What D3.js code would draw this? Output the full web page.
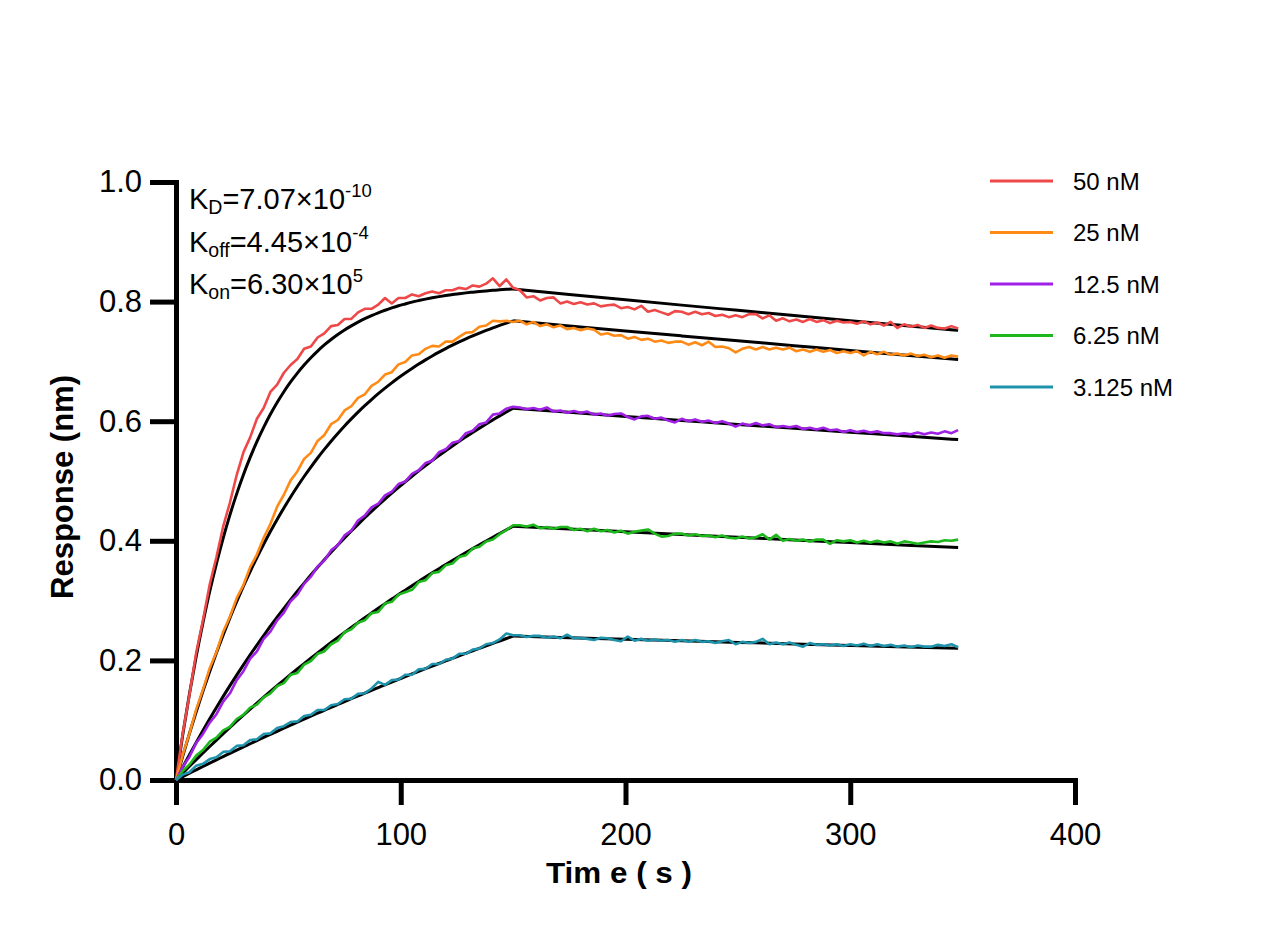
<!DOCTYPE html>
<html><head><meta charset="utf-8">
<script src="https://cdn.jsdelivr.net/npm/d3@7"></script>
<style>
html,body{margin:0;padding:0;background:#fff;}
svg{display:block;font-family:"Liberation Sans",Arial,Helvetica,sans-serif;}
</style></head><body>
<svg id="chart" width="1284" height="934"></svg>
<script>
// ---- sample times (s) of the measured traces ----
const time = [0,3,6,9,12,15,18,21,24,27,30,33,36,39,42,45,48,51,54,57,60,63,66,69,72,75,78,81,84,87,90,93,96,99,102,105,108,111,114,117,120,123,126,129,132,135,138,141,144,147,150,
153,156,159,162,165,168,171,174,177,180,183,186,189,192,195,198,201,204,207,210,213,216,219,222,225,228,231,234,237,240,243,246,249,252,255,258,261,264,267,270,273,276,279,282,285,288,291,294,297,300,303,306,309,312,315,318,321,324,327,330,333,336,339,342,345,348];
// ---- sample times (s) of the fitted curves ----
const fitTime = [0,3,6,9,12,15,18,21,24,27,30,33,36,39,42,45,48,51,54,57,60,63,66,69,72,75,78,81,84,87,90,93,96,99,102,105,108,111,114,117,120,123,126,129,132,135,138,141,144,147,150,
175,200,225,250,275,300,325,348];

const seriesNames = ["50 nM","25 nM","12.5 nM","6.25 nM","3.125 nM"];
const seriesColors = ["#EE4848","#FF8A16","#A020E6","#1CB81C","#1F93AC"];

// ---- measured responses (nm) ----
const data50 = [0,0.078,0.143,0.213,0.267,0.327,0.373,0.424,0.464,0.510,0.548,0.573,0.604,0.622,0.649,0.661,0.681,0.694,0.704,0.721,0.725,0.740,0.747,0.759,0.761,0.771,0.771,0.782,0.788,0.788,0.795,0.806,0.797,0.806,0.806,0.812,0.809,0.814,0.817,0.814,0.819,0.819,0.823,0.821,0.827,0.825,0.830,0.839,0.826,0.837,0.823,
0.819,0.807,0.809,0.802,0.806,0.807,0.797,0.800,0.796,0.799,0.795,0.797,0.792,0.794,0.795,0.789,0.791,0.787,0.793,0.783,0.786,0.782,0.778,0.784,0.783,0.779,0.783,0.779,0.781,0.776,0.778,0.774,0.777,0.774,0.779,0.779,0.772,0.777,0.768,0.772,0.767,0.770,0.766,0.771,0.766,0.769,0.764,0.768,0.765,0.766,0.763,0.767,0.762,0.765,0.760,0.766,0.756,0.762,0.758,0.761,0.756,0.760,0.756,0.755,0.759,0.755];
const data25 = [0,0.042,0.078,0.118,0.151,0.187,0.214,0.248,0.273,0.304,0.326,0.356,0.377,0.405,0.428,0.457,0.477,0.501,0.516,0.537,0.547,0.567,0.577,0.595,0.602,0.618,0.625,0.639,0.645,0.659,0.666,0.678,0.682,0.695,0.699,0.710,0.712,0.721,0.726,0.725,0.733,0.733,0.741,0.748,0.749,0.758,0.760,0.768,0.767,0.768,0.766,
0.768,0.762,0.766,0.759,0.762,0.757,0.760,0.754,0.756,0.752,0.755,0.753,0.745,0.747,0.743,0.744,0.738,0.741,0.736,0.738,0.733,0.735,0.731,0.733,0.733,0.728,0.732,0.727,0.733,0.724,0.725,0.722,0.715,0.721,0.724,0.720,0.724,0.720,0.723,0.720,0.723,0.717,0.720,0.716,0.720,0.716,0.719,0.714,0.717,0.714,0.717,0.710,0.716,0.712,0.716,0.711,0.713,0.710,0.713,0.709,0.711,0.707,0.710,0.706,0.710,0.708];
const data12 = [0,0.022,0.039,0.062,0.077,0.096,0.110,0.131,0.145,0.167,0.182,0.203,0.215,0.236,0.248,0.267,0.280,0.299,0.310,0.328,0.340,0.357,0.367,0.384,0.393,0.409,0.417,0.434,0.442,0.456,0.462,0.476,0.482,0.495,0.499,0.512,0.518,0.530,0.534,0.548,0.553,0.564,0.567,0.580,0.584,0.595,0.598,0.611,0.613,0.621,0.624,
0.623,0.620,0.622,0.619,0.623,0.616,0.618,0.614,0.617,0.614,0.616,0.611,0.613,0.609,0.612,0.613,0.607,0.603,0.608,0.609,0.604,0.606,0.601,0.598,0.604,0.600,0.603,0.599,0.601,0.597,0.600,0.596,0.591,0.596,0.593,0.597,0.593,0.595,0.590,0.592,0.590,0.592,0.587,0.589,0.586,0.589,0.585,0.586,0.582,0.585,0.582,0.584,0.581,0.583,0.580,0.580,0.578,0.580,0.578,0.581,0.578,0.581,0.579,0.583,0.580,0.585];
const data6 = [0,0.015,0.026,0.041,0.050,0.064,0.071,0.083,0.089,0.102,0.109,0.121,0.126,0.138,0.145,0.157,0.162,0.176,0.179,0.193,0.199,0.211,0.215,0.227,0.233,0.247,0.252,0.263,0.267,0.279,0.281,0.295,0.298,0.310,0.314,0.318,0.331,0.334,0.346,0.348,0.359,0.362,0.373,0.376,0.387,0.390,0.399,0.402,0.411,0.418,0.426,
0.426,0.424,0.427,0.421,0.423,0.420,0.423,0.423,0.418,0.420,0.416,0.420,0.416,0.418,0.414,0.417,0.412,0.415,0.417,0.419,0.412,0.407,0.408,0.412,0.412,0.409,0.411,0.408,0.409,0.406,0.409,0.405,0.404,0.407,0.404,0.406,0.411,0.402,0.410,0.400,0.403,0.400,0.402,0.399,0.402,0.402,0.395,0.401,0.399,0.401,0.397,0.400,0.397,0.400,0.397,0.399,0.395,0.399,0.397,0.395,0.397,0.399,0.398,0.401,0.400,0.402];
const data3 = [0,0.009,0.013,0.024,0.027,0.035,0.038,0.047,0.048,0.057,0.058,0.067,0.068,0.077,0.078,0.087,0.090,0.097,0.098,0.107,0.109,0.117,0.117,0.125,0.127,0.135,0.136,0.144,0.145,0.153,0.164,0.159,0.167,0.168,0.176,0.176,0.185,0.186,0.194,0.194,0.201,0.203,0.211,0.211,0.218,0.220,0.227,0.229,0.235,0.245,0.242,
0.242,0.239,0.241,0.241,0.238,0.240,0.237,0.243,0.237,0.238,0.236,0.234,0.238,0.237,0.234,0.232,0.240,0.233,0.236,0.233,0.235,0.233,0.234,0.231,0.234,0.231,0.234,0.231,0.232,0.229,0.232,0.234,0.227,0.231,0.229,0.231,0.236,0.227,0.230,0.227,0.230,0.226,0.223,0.229,0.226,0.227,0.225,0.227,0.224,0.227,0.225,0.228,0.224,0.227,0.224,0.226,0.223,0.225,0.222,0.225,0.223,0.223,0.226,0.224,0.227,0.222];

// ---- fitted curves (nm) ----
const fit50 = [0,0.0757,0.1444,0.2068,0.2632,0.3152,0.3619,0.4047,0.4433,0.4785,0.5105,0.5394,0.5658,0.5898,0.6116,0.6313,0.6493,0.6656,0.6805,0.6940,0.7062,0.7173,0.7275,0.7367,0.7450,0.7526,0.7594,0.7657,0.7714,0.7766,0.7813,0.7855,0.7894,0.7930,0.7961,0.7991,0.8017,0.8041,0.8063,0.8083,0.8101,0.8117,0.8132,0.8146,0.8158,0.8169,0.8179,0.8188,0.8197,0.8205,0.8211,
0.8120,0.8030,0.7941,0.7854,0.7767,0.7681,0.7596,0.7519];
const fit25 = [0,0.0399,0.0780,0.1142,0.1487,0.1816,0.2129,0.2427,0.2712,0.2982,0.3240,0.3486,0.3720,0.3943,0.4155,0.4357,0.4550,0.4733,0.4908,0.5075,0.5233,0.5385,0.5528,0.5666,0.5796,0.5921,0.6039,0.6152,0.6260,0.6362,0.6460,0.6553,0.6641,0.6726,0.6806,0.6882,0.6955,0.7025,0.7091,0.7154,0.7214,0.7271,0.7326,0.7378,0.7427,0.7474,0.7519,0.7562,0.7602,0.7641,0.7678,
0.7593,0.7509,0.7426,0.7344,0.7263,0.7182,0.7103,0.7031];
const fit12 = [0,0.0215,0.0425,0.0629,0.0829,0.1023,0.1213,0.1398,0.1578,0.1754,0.1926,0.2094,0.2257,0.2416,0.2572,0.2723,0.2871,0.3015,0.3156,0.3293,0.3427,0.3557,0.3685,0.3809,0.3930,0.4048,0.4163,0.4275,0.4385,0.4492,0.4596,0.4698,0.4797,0.4894,0.4988,0.5080,0.5170,0.5257,0.5343,0.5426,0.5507,0.5586,0.5663,0.5739,0.5812,0.5884,0.5954,0.6022,0.6089,0.6154,0.6217,
0.6148,0.6080,0.6013,0.5946,0.5881,0.5816,0.5751,0.5693];
const fit6 = [0,0.0115,0.0229,0.0341,0.0451,0.0560,0.0668,0.0774,0.0879,0.0983,0.1085,0.1186,0.1286,0.1384,0.1481,0.1577,0.1671,0.1764,0.1856,0.1947,0.2037,0.2125,0.2212,0.2299,0.2384,0.2468,0.2550,0.2632,0.2713,0.2792,0.2871,0.2949,0.3025,0.3101,0.3175,0.3249,0.3321,0.3393,0.3464,0.3534,0.3602,0.3671,0.3738,0.3804,0.3869,0.3934,0.3997,0.4060,0.4122,0.4184,0.4244,
0.4197,0.4151,0.4105,0.4059,0.4014,0.3970,0.3926,0.3886];
const fit3 = [0,0.0057,0.0114,0.0170,0.0226,0.0282,0.0337,0.0391,0.0446,0.0500,0.0553,0.0606,0.0659,0.0712,0.0763,0.0815,0.0866,0.0917,0.0968,0.1018,0.1068,0.1117,0.1166,0.1215,0.1263,0.1311,0.1359,0.1406,0.1453,0.1500,0.1546,0.1592,0.1638,0.1683,0.1728,0.1773,0.1817,0.1861,0.1905,0.1948,0.1992,0.2034,0.2077,0.2119,0.2161,0.2202,0.2244,0.2285,0.2325,0.2366,0.2406,
0.2379,0.2353,0.2327,0.2301,0.2276,0.2251,0.2226,0.2203];

const xTicks = [0,100,200,300,400];
const yTicks = [0,0.2,0.4,0.6,0.8,1.0];
const dissocStart = 150;

const measured = [data50,data25,data12,data6,data3];
const fitted = [fit50,fit25,fit12,fit6,fit3];

// ---- drawing ----
const svg = d3.select("#chart");
const x = d3.scaleLinear().domain([0,400]).range([176,1075]);
const y = d3.scaleLinear().domain([0,1]).range([780,182]);

const xAxis = svg.append("g").attr("transform","translate(0,780)")
  .call(d3.axisBottom(x).tickValues(xTicks).tickSize(25).tickSizeOuter(0).tickPadding(18).tickFormat(d3.format("d")));
const yAxis = svg.append("g").attr("transform","translate(176,0)")
  .call(d3.axisLeft(y).tickValues(yTicks).tickSize(26).tickSizeOuter(0).tickPadding(8).tickFormat(d3.format(".1f")));
[xAxis,yAxis].forEach(g=>{
  g.select(".domain").attr("stroke","#000").attr("stroke-width",5).attr("stroke-linecap","square");
  g.selectAll(".tick line").attr("stroke","#000").attr("stroke-width",5);
  g.selectAll(".tick text").attr("fill","#000").style("font-size","31px")
   .style("font-family",'"Liberation Sans",Arial,sans-serif');
});

// axis titles
svg.append("text").attr("x",619).attr("y",883).attr("text-anchor","middle")
  .style("font-size","30px").style("font-weight","bold").attr("fill","#000")
  .attr("xml:space","preserve").attr("textLength",146).attr("lengthAdjust","spacingAndGlyphs")
  .text("Tim e ( s )");
svg.append("text").attr("transform","translate(73,487) rotate(-90)").attr("text-anchor","middle")
  .style("font-size","31px").style("font-weight","bold").attr("fill","#000")
  .text("Response (nm)");

// curves
const line = d3.line().x(d=>x(d[0])).y(d=>y(d[1]));
const smooth = d3.line().x(d=>x(d[0])).y(d=>y(d[1])).curve(d3.curveMonotoneX);

fitted.forEach(f=>{
  const pts = fitTime.map((t,i)=>[t,f[i]]);
  const assoc = pts.filter(p=>p[0]<=dissocStart);
  const diss = pts.filter(p=>p[0]>=dissocStart);
  [assoc,diss].forEach(seg=>{
    svg.append("path").attr("d",smooth(seg)).attr("fill","none")
      .attr("stroke","#000").attr("stroke-width",3).attr("stroke-linejoin","round");
  });
});
measured.forEach((s,k)=>{
  const pts = time.map((t,i)=>[t,s[i]]);
  svg.append("path").attr("d",line(pts)).attr("fill","none")
    .attr("stroke",seriesColors[k]).attr("stroke-width",2.6).attr("stroke-linejoin","round");
});

// kinetic constants
const ann = [
  {main:"K", sub:"D", rest:"=7.07×10", sup:"-10", y:209},
  {main:"K", sub:"off", rest:"=4.45×10", sup:"-4", y:251.5},
  {main:"K", sub:"on", rest:"=6.30×10", sup:"5", y:294}
];
ann.forEach(a=>{
  const t = svg.append("text").attr("x",189).attr("y",a.y).attr("fill","#000").style("font-size","29px");
  t.append("tspan").text(a.main);
  t.append("tspan").attr("dy",5).style("font-size","19.5px").text(a.sub);
  t.append("tspan").attr("dy",-5).text(a.rest);
  t.append("tspan").attr("dy",-12.5).style("font-size","18.5px").text(a.sup);
});

// legend
seriesNames.forEach((n,i)=>{
  const ly = 181 + i*51.5;
  svg.append("line").attr("x1",990).attr("x2",1053).attr("y1",ly).attr("y2",ly)
    .attr("stroke",seriesColors[i]).attr("stroke-width",3);
  svg.append("text").attr("x",1073).attr("y",ly+8.5).attr("fill","#000")
    .style("font-size","24px").text(n);
});
</script>
</body></html>
